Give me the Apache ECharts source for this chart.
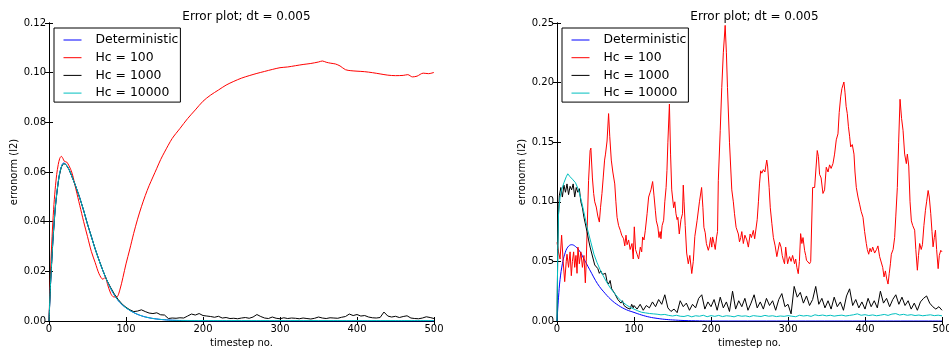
<!DOCTYPE html>
<html><head><meta charset="utf-8">
<script src="https://cdn.jsdelivr.net/npm/echarts@6/dist/echarts.min.js"></script>
<style>html,body{margin:0;padding:0;background:#fff}#c{width:949px;height:349px}</style>
</head><body><div id="c"></div>
<script>
const titleText = 'Error plot; dt = 0.005';
const seriesNames = ['Deterministic', 'Hc = 100', 'Hc = 1000', 'Hc = 10000'];
const xTicks = [0, 100, 200, 300, 400, 500];
const leftYTicks = [0, 0.02, 0.04, 0.06, 0.08, 0.10, 0.12];
const rightYTicks = [0, 0.05, 0.10, 0.15, 0.20, 0.25];

// ---- Left panel ----
const detLeftT = [0,2,5,8,10,13,16,19,22,26,30,35,40,45,50,55,60,65,70,75,80,85,90,95,100,110,120,130,140,150,160,180,200,300,400,500];
const detLeftV = [0,0.015,0.032,0.045,0.051,0.058,0.062,0.0636,0.063,0.061,0.058,0.054,0.0495,0.0445,0.039,0.034,0.029,0.0245,0.0203,0.0165,0.0132,0.0104,0.0082,0.0066,0.0053,0.0034,0.0021,0.0013,0.0008,0.0005,0.0003,0.0001,0,0,0,0];

const redLeftT = [0,2,4,6,8,10,12,14,16,18,20,23,26,30,35,40,45,50,55,60,65,70,73,76,80,84,88,92,96,100,105,110,115,120,125,130,135,140,145,150,160,170,180,190,200,210,220,230,240,250,260,270,280,290,300,310,320,330,340,350,355,360,366,372,378,385,392,400,410,420,430,440,450,460,466,472,478,486,493,500];
const redLeftV = [0,0.02,0.034,0.045,0.053,0.059,0.063,0.0655,0.0663,0.0655,0.0643,0.064,0.0625,0.0595,0.053,0.0465,0.040,0.034,0.028,0.0235,0.019,0.0168,0.0176,0.0148,0.0112,0.0097,0.0097,0.0125,0.0175,0.023,0.029,0.0353,0.041,0.046,0.0505,0.0545,0.058,0.0615,0.065,0.068,0.0735,0.0775,0.0815,0.085,0.0885,0.091,0.093,0.095,0.0965,0.0978,0.0988,0.0997,0.1005,0.1013,0.102,0.1023,0.1028,0.1033,0.1037,0.1043,0.1047,0.1042,0.1038,0.1035,0.1027,0.1012,0.1008,0.1006,0.1004,0.1000,0.0995,0.0990,0.0988,0.0989,0.0992,0.0983,0.0986,0.0998,0.0996,0.1001];

const blackLeftT = [0,2,5,8,10,13,16,19,22,26,30,35,40,45,50,55,60,65,70,75,80,85,90,95,100,105,110,115,120,125,130,135,140,145,150,155,160,165,170,175,180,185,190,195,200,205,210,215,220,225,230,235,240,245,250,255,260,265,270,275,280,285,290,295,300,305,310,315,320,325,330,335,340,345,350,355,360,365,370,375,380,385,390,395,400,405,410,415,420,425,430,435,440,445,450,455,460,465,470,475,480,485,490,495,500];
const blackLeftV = [0,0.015,0.032,0.045,0.051,0.058,0.062,0.0634,0.063,0.061,0.058,0.054,0.0495,0.0445,0.039,0.034,0.029,0.0245,0.0203,0.0165,0.0135,0.0108,0.0086,0.0068,0.0055,0.0045,0.0038,0.004,0.0045,0.0038,0.0032,0.0030,0.0033,0.0025,0.0024,0.0010,0.0012,0.0011,0.0013,0.0012,0.0020,0.0028,0.0024,0.0030,0.0022,0.0020,0.0018,0.0015,0.0019,0.0012,0.0014,0.0010,0.0011,0.0009,0.0012,0.0014,0.0011,0.0016,0.0026,0.0018,0.0012,0.0010,0.0016,0.0011,0.0009,0.0013,0.0010,0.0012,0.0011,0.0009,0.0012,0.0010,0.0008,0.0011,0.0016,0.0012,0.0010,0.0013,0.0012,0.0011,0.0015,0.0018,0.0028,0.0022,0.0026,0.0020,0.0022,0.0016,0.0013,0.0012,0.0014,0.0036,0.0020,0.0016,0.0019,0.0014,0.0018,0.0021,0.0012,0.0010,0.0009,0.0012,0.0017,0.0014,0.0010];

const cyanLeftT = [0,2,5,8,10,13,16,19,22,26,30,35,40,45,50,55,60,65,70,75,80,85,90,95,100,110,120,130,140,150,160,200,250,300,350,400,450,500];
const cyanLeftV = [0,0.015,0.032,0.045,0.051,0.058,0.062,0.0634,0.063,0.061,0.058,0.054,0.0495,0.0445,0.039,0.034,0.029,0.0245,0.0203,0.0165,0.0132,0.0104,0.0082,0.0066,0.0053,0.0034,0.0021,0.0013,0.0008,0.0005,0.0003,0.0002,0.0002,0.0002,0.0002,0.0002,0.0002,0.0002];

// ---- Right panel ----
const detRightT = [0,2,4,7,10,14,19,24,30,35,40,45,50,55,60,70,80,90,100,110,120,130,140,150,165,185,200,500];
const detRightV = [0,0.02,0.035,0.048,0.056,0.062,0.064,0.0625,0.058,0.052,0.046,0.040,0.034,0.029,0.025,0.018,0.013,0.0095,0.0072,0.005,0.0033,0.0022,0.0014,0.0009,0.0004,0.0001,0,0];

const redRightT = [0,2,4,6,8,10,12,13,15,17,18.6,20,21.6,23,24.6,26,27.2,29,31,33,35,36.8,38,39,41,43,44,46,47.6,49,51,53,55,56.5,58.4,60,61.8,63,65,67,68.5,70.5,72.5,75,76.5,78,80,82.2,84,86.5,88,89.6,91,93,95,97.4,99,100.4,102,104,106,108.2,110,111.2,113,114.7,117,119,121,122,124.2,126,127.7,129,131,132.5,134,135,136.5,138.5,140,141.7,142.8,144,146,147.5,149,151.5,153,154.5,156,157,158.8,161,163,164,165,166.5,168.4,170.5,172.5,175,177,179,182,185,187.8,189.5,190.8,192.5,194,196.5,198,199.5,201,202.1,204,205.5,207.3,208.5,209.5,212,214,216,218.4,220,221.4,224,227,229,230.5,232.6,234,235.5,237,238.6,240,242,244,246.5,248.5,250.8,252.5,255,256.7,258.2,260,261.6,263,264.5,266,268,270,272.4,273.5,275.5,277,279,281,283.3,285.5,287.6,289,291,292.5,294,295.5,297,299.5,301,302,304,306,308.5,310,311.5,313.3,314.8,316.4,318,319.5,321.6,323,324,326,328,329.5,332,334.6,336,338,339.5,341,343,345.4,347.5,349.7,352,354,356,358.4,360.5,362.7,364.9,366.5,368.4,370,372.6,374,375.5,377,378.5,380,381.4,383.5,385.7,387,388.7,390.9,393,395,397.4,399.5,401.7,403,404.8,406.5,408.2,410,412.5,415,416.8,419,421,423,424.7,426.5,428,429.9,431.5,433,434.2,436.5,438.5,440,442,443.7,445.5,447.5,449.4,451.5,453.7,455,456.8,458.5,460.2,462,464.5,466,468,469.5,471,473,474.6,476.5,478.5,480,482,483.5,485.4,487,488.4,490,491.5,493,495,496.5,498.4,500];
const redRightV = [0.066,0.058,0.052,0.072,0.05,0.033,0.05,0.056,0.045,0.058,0.038,0.05,0.058,0.045,0.055,0.04,0.062,0.048,0.058,0.045,0.055,0.032,0.05,0.073,0.118,0.143,0.145,0.12,0.107,0.1,0.0956,0.088,0.083,0.095,0.107,0.12,0.135,0.14,0.151,0.174,0.155,0.135,0.125,0.115,0.1,0.087,0.08,0.0761,0.072,0.069,0.063,0.072,0.064,0.068,0.06,0.065,0.052,0.079,0.06,0.056,0.052,0.062,0.058,0.0705,0.068,0.0761,0.09,0.104,0.108,0.11,0.117,0.105,0.0929,0.084,0.0789,0.07,0.075,0.069,0.08,0.0845,0.1,0.112,0.1264,0.15,0.182,0.14,0.11,0.095,0.1,0.09,0.085,0.087,0.073,0.085,0.09,0.114,0.1,0.08,0.057,0.048,0.055,0.0398,0.05,0.071,0.0845,0.1,0.112,0.095,0.0786,0.074,0.065,0.0593,0.063,0.07,0.062,0.0705,0.065,0.06,0.0705,0.075,0.118,0.16,0.196,0.225,0.248,0.225,0.196,0.15,0.11,0.1,0.09,0.0786,0.08,0.073,0.0664,0.07,0.075,0.065,0.072,0.068,0.062,0.073,0.07,0.076,0.069,0.068,0.085,0.1,0.115,0.126,0.124,0.127,0.125,0.135,0.13,0.112,0.095,0.082,0.07,0.063,0.054,0.0538,0.066,0.062,0.055,0.051,0.048,0.062,0.048,0.052,0.054,0.05,0.055,0.048,0.052,0.045,0.0397,0.05,0.0733,0.065,0.07,0.059,0.055,0.051,0.05,0.048,0.05,0.112,0.112,0.125,0.143,0.138,0.123,0.12,0.107,0.11,0.129,0.125,0.131,0.128,0.132,0.14,0.152,0.157,0.175,0.188,0.195,0.2005,0.192,0.18,0.174,0.163,0.155,0.146,0.148,0.140,0.125,0.112,0.104,0.098,0.092,0.087,0.075,0.065,0.06,0.056,0.061,0.058,0.062,0.057,0.06,0.063,0.054,0.0538,0.045,0.037,0.042,0.036,0.031,0.04,0.048,0.056,0.06,0.07,0.088,0.112,0.15,0.186,0.17,0.16,0.14,0.132,0.14,0.13,0.1,0.084,0.08,0.0762,0.06,0.0426,0.055,0.065,0.06,0.064,0.08,0.0929,0.1,0.1095,0.104,0.09,0.075,0.0622,0.07,0.0762,0.06,0.0439,0.055,0.0593,0.058];

const blackRightT = [0,1,2,3,5,7,9,11,13,15,17,19,21,23,25,27,29,31,33,35,37,39,41,43,45,47,49,51,53,55,57,59,61,63,65,67,69,71,73,75,77,79,81,83,85,87,89,91,93,95,97,99,
  100,104,108,112,116,120,124,128,132,136,140,144,148,152,156,160,164,168,172,176,180,184,188,192,196,200,204,208,212,216,220,224,228,232,236,240,244,248,252,256,260,264,268,272,276,280,284,288,292,296,300,304,308,312,316,320,324,328,332,336,340,344,348,352,356,360,364,368,372,376,380,384,388,392,396,400,404,408,412,416,420,424,428,432,436,440,444,448,452,456,460,464,468,472,476,480,484,488,492,496,500];
const blackRightV = [0,0.06,0.09,0.105,0.112,0.104,0.114,0.108,0.115,0.106,0.113,0.110,0.115,0.104,0.112,0.108,0.111,0.100,0.095,0.087,0.086,0.075,0.068,0.062,0.057,0.052,0.047,0.046,0.044,0.040,0.042,0.039,0.038,0.040,0.033,0.031,0.034,0.027,0.026,0.023,0.022,0.018,0.019,0.015,0.017,0.013,0.014,0.011,0.012,0.010,0.014,0.011,
  0.013,0.010,0.014,0.009,0.013,0.011,0.016,0.012,0.018,0.014,0.022,0.011,0.008,0.010,0.007,0.017,0.012,0.015,0.009,0.014,0.011,0.019,0.022,0.010,0.016,0.012,0.018,0.009,0.020,0.011,0.016,0.008,0.025,0.010,0.017,0.012,0.019,0.009,0.015,0.022,0.011,0.016,0.010,0.019,0.013,0.017,0.009,0.018,0.023,0.012,0.014,0.006,0.029,0.020,0.024,0.015,0.021,0.013,0.018,0.029,0.014,0.019,0.011,0.017,0.010,0.020,0.012,0.016,0.009,0.021,0.027,0.013,0.018,0.011,0.016,0.010,0.019,0.012,0.017,0.011,0.025,0.015,0.019,0.012,0.018,0.022,0.014,0.020,0.013,0.017,0.010,0.015,0.009,0.016,0.019,0.021,0.015,0.012,0.010,0.012,0.009];

const cyanRightT = [0,1,2,4,6,9,12,14,17,20,24,28,32,36,40,44,48,52,56,60,65,70,75,80,85,90,95,100,105,110,115,120,125,130,135,140,145,150,155,160,165,170,175,180,185,190,195,200,205,210,215,220,225,230,235,240,245,250,255,260,265,270,275,280,285,290,295,300,305,310,315,320,325,330,335,340,345,350,355,360,365,370,375,380,385,390,395,400,405,410,415,420,425,430,435,440,445,450,455,460,465,470,475,480,485,490,495,500];
const cyanRightV = [0,0.06,0.09,0.104,0.11,0.116,0.121,0.1235,0.121,0.119,0.116,0.11,0.100,0.088,0.076,0.066,0.056,0.049,0.043,0.038,0.032,0.027,0.023,0.019,0.016,0.0135,0.0115,0.010,0.0085,0.0073,0.0068,0.0063,0.006,0.0057,0.0052,0.0055,0.0047,0.0042,0.0048,0.0040,0.0038,0.0046,0.0035,0.0044,0.0040,0.0048,0.0036,0.0045,0.0039,0.0047,0.0037,0.0044,0.0041,0.0035,0.0046,0.0040,0.0043,0.0036,0.0045,0.0041,0.0038,0.0047,0.0040,0.0044,0.0037,0.0042,0.0039,0.0045,0.0040,0.0036,0.0048,0.0042,0.0046,0.0039,0.0052,0.0045,0.0050,0.0043,0.0048,0.0041,0.0046,0.0049,0.0042,0.0047,0.0052,0.0060,0.0048,0.0053,0.0046,0.0051,0.0044,0.0049,0.0055,0.0047,0.0058,0.0062,0.0050,0.0056,0.0048,0.0053,0.0046,0.0050,0.0044,0.0048,0.0052,0.0045,0.0049,0.0043];

const colors = ['#0000ff', '#ff0000', '#000000', '#00bfbf'];
const FONT = 'DejaVu Sans';

function pairs(ts, vs) { return ts.map((t, i) => [t, vs[i]]); }

function makeAxes(gridIndex, ymax, yint, ylabels) {
  const common = {
    gridIndex, type: 'value', splitLine: { show: false },
    axisLine: { show: true, lineStyle: { color: '#000', width: 1 } },
    axisTick: { show: true, inside: true, length: 4, lineStyle: { color: '#000' } }
  };
  const xs = [
    Object.assign({}, common, {
      position: 'bottom', min: 0, max: 500, interval: 100,
      name: 'timestep no.', nameLocation: 'middle', nameGap: 15,
      nameTextStyle: { fontFamily: FONT, fontSize: 10, color: '#000' },
      axisLabel: { fontFamily: FONT, fontSize: 10, color: '#000', margin: 3, formatter: v => xTicks.includes(v) ? String(v) : '' }
    }),
    Object.assign({}, common, { position: 'top', min: 0, max: 500, interval: 100, axisLabel: { show: false } })
  ];
  const ys = [
    Object.assign({}, common, {
      position: 'left', min: 0, max: ymax, interval: yint,
      name: 'erronorm (l2)', nameLocation: 'middle', nameGap: 30,
      nameTextStyle: { fontFamily: FONT, fontSize: 10, color: '#000' },
      axisLabel: { fontFamily: FONT, fontSize: 10, color: '#000', margin: 3,
        formatter: v => { const t = ylabels.find(k => Math.abs(k - v) < 1e-9); return t === undefined ? '' : t.toFixed(2); } }
    }),
    Object.assign({}, common, { position: 'right', min: 0, max: ymax, interval: yint, axisLabel: { show: false } })
  ];
  return { xs, ys };
}

const L = makeAxes(0, 0.12, 0.02, leftYTicks);
const R = makeAxes(1, 0.25, 0.05, rightYTicks);

function line(name, data, xi, yi, color, smooth) {
  return { name, type: 'line', xAxisIndex: xi, yAxisIndex: yi, data, symbol: 'none', smooth: smooth || false,
    lineStyle: { color, width: 1 }, itemStyle: { color }, z: 2 };
}

const legendCommon = {
  orient: 'vertical', top: 28, itemWidth: 18, itemHeight: 14, itemGap: 5.7,
  backgroundColor: '#fff', borderColor: '#000', borderWidth: 1, borderRadius: 0,
  padding: [6, 2, 3, 9], data: seriesNames,
  itemStyle: { opacity: 0 },
  lineStyle: { width: 1 },
  textStyle: { fontFamily: FONT, fontSize: 12.4, color: '#000', padding: [0, 0, 0, 9] }
};

const option = {
  animation: false,
  backgroundColor: '#fff',
  title: [
    { text: titleText, left: 241.5, top: 6, textAlign: 'center', textStyle: { fontFamily: FONT, fontSize: 12, fontWeight: 'normal', color: '#000' } },
    { text: titleText, left: 749.5, top: 6, textAlign: 'center', textStyle: { fontFamily: FONT, fontSize: 12, fontWeight: 'normal', color: '#000' } }
  ],
  legend: [
    Object.assign({}, legendCommon, { left: 54 }),
    Object.assign({}, legendCommon, { left: 562 })
  ],
  grid: [
    { left: 49, top: 23, width: 385, height: 298, containLabel: false, outerBoundsMode: 'none' },
    { left: 557, top: 23, width: 385, height: 298, containLabel: false, outerBoundsMode: 'none' }
  ],
  xAxis: [L.xs[0], L.xs[1], R.xs[0], R.xs[1]],
  yAxis: [L.ys[0], L.ys[1], R.ys[0], R.ys[1]],
  series: [
    line(seriesNames[0], pairs(detLeftT, detLeftV), 0, 0, colors[0], 0.4),
    line(seriesNames[1], pairs(redLeftT, redLeftV), 0, 0, colors[1], 0.3),
    line(seriesNames[2], pairs(blackLeftT, blackLeftV), 0, 0, colors[2], false),
    line(seriesNames[3], pairs(cyanLeftT, cyanLeftV), 0, 0, colors[3], 0.4),
    line(seriesNames[0], pairs(detRightT, detRightV), 2, 2, colors[0], 0.4),
    line(seriesNames[1], pairs(redRightT, redRightV), 2, 2, colors[1], false),
    line(seriesNames[2], pairs(blackRightT, blackRightV), 2, 2, colors[2], false),
    line(seriesNames[3], pairs(cyanRightT, cyanRightV), 2, 2, colors[3], false)
  ]
};

const chart = echarts.init(document.getElementById('c'), null, { renderer: 'canvas' });
chart.setOption(option);
</script></body></html>
